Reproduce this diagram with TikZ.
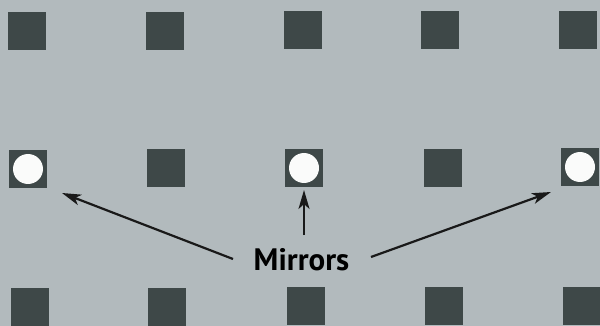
\documentclass[tikz,border=0pt]{standalone}
\usepackage{fontspec}
\setmainfont{PT Sans}
\usetikzlibrary{arrows.meta}
\definecolor{bgc}{RGB}{178,186,189}
\definecolor{sqc}{RGB}{62,72,72}
\definecolor{mirc}{RGB}{250,251,250}
\tikzset{
  sq/.style={fill=sqc,draw=none,minimum size=38pt,inner sep=0pt,outer sep=0pt},
  mir/.style={circle,fill=mirc,draw=none,minimum size=30pt,inner sep=0pt},
  arr/.style={-{Stealth[length=19pt,width=11pt,inset=5pt]},line width=2.2pt,black!90}
}
\begin{document}
\begin{tikzpicture}[x=1pt,y=-1pt]
\useasboundingbox (0,0) rectangle (600,326);
\clip (0,0) rectangle (600,326);
\fill[bgc] (0,0) rectangle (600,326);
% top row
\node[sq] (t1) at (27,31) {};
\node[sq] (t2) at (165,31) {};
\node[sq] (t3) at (303,30.5) {};
\node[sq] (t4) at (440,30.5) {};
\node[sq] (t5) at (578,30) {};
% middle row
\node[sq] (m1) at (28,169) {};
\node[sq] (m2) at (166,168.5) {};
\node[sq] (m3) at (304,168) {};
\node[sq] (m4) at (443,168) {};
\node[sq] (m5) at (580,167) {};
\node[mir] (c1) at (m1) {};
\node[mir] (c3) at (m3) {};
\node[mir] (c5) at (m5) {};
% bottom row
\node[sq] (b1) at (30,307) {};
\node[sq] (b2) at (167,306.5) {};
\node[sq] (b3) at (306,306) {};
\node[sq] (b4) at (444,306) {};
\node[sq] (b5) at (582,305.5) {};
% label
\node[font=\bfseries\fontsize{31}{33}\selectfont,inner sep=0pt,anchor=base] (lbl) at (301.5,270) {Mirrors};
\coordinate (sL) at (233,259);
\coordinate (sM) at (304,235);
\coordinate (sR) at (371,257);
\coordinate (eL) at (62,193);
\coordinate (eM) at (304,190);
\coordinate (eR) at (551,192);
\draw[arr] (sL) -- (eL);
\draw[arr] (sM) -- (eM);
\draw[arr] (sR) -- (eR);
\end{tikzpicture}
\end{document}
